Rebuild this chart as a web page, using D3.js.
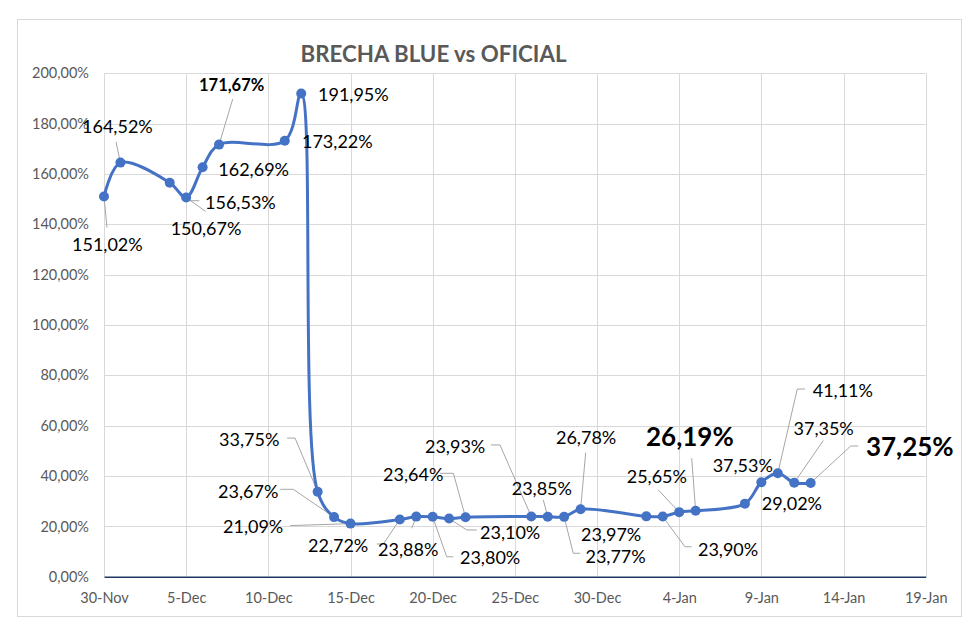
<!DOCTYPE html>
<html>
<head>
<meta charset="utf-8">
<script src="https://cdn.jsdelivr.net/npm/d3@7"></script>
<style>
  body { margin: 0; background: #fff; }
  text { font-family: Lato, "Open Sans", sans-serif; }
</style>
</head>
<body>
<svg id="chart" width="980" height="636"></svg>
<script>
// data
var dates = ['2023-11-30','2023-12-01','2023-12-04','2023-12-05','2023-12-06','2023-12-07',
  '2023-12-11','2023-12-12','2023-12-13','2023-12-14','2023-12-15','2023-12-18','2023-12-19',
  '2023-12-20','2023-12-21','2023-12-22','2023-12-26','2023-12-27','2023-12-28','2023-12-29',
  '2024-01-02','2024-01-03','2024-01-04','2024-01-05','2024-01-08','2024-01-09','2024-01-10',
  '2024-01-11','2024-01-12'];
var brecha = [151.02,164.52,156.53,150.67,162.69,171.67,173.22,191.95,33.75,23.67,21.09,22.72,23.88,
  23.80,23.10,23.64,23.93,23.85,23.77,26.78,23.97,23.90,25.65,26.19,29.02,37.53,41.11,37.35,37.25];
var xTicks = ['2023-11-30','2023-12-05','2023-12-10','2023-12-15','2023-12-20','2023-12-25',
  '2023-12-30','2024-01-04','2024-01-09','2024-01-14','2024-01-19'];
var yTicks = [0,20,40,60,80,100,120,140,160,180,200];

// label placement (offset of text start / leader points, relative to the marker)
var labelLayout = [
  {dx:-32, dy:54.4, lead:[[0,0],[3,31]]},
  {dx:-38.4, dy:-29.6, lead:[[-4.4,-20.6],[0,0]]},
  {dx:35.3, dy:26.3, lead:[[0,0],[20,18],[29.6,18]]},
  {dx:-15.5, dy:37.5, lead:[[0,0],[19.5,14]]},
  {dx:15.7, dy:8.8},
  {dx:-20, dy:-53.6, lead:[[13.7,-45.6],[0,0]], kind:'b'},
  {dx:17.2, dy:7.3},
  {dx:16.8, dy:7.9},
  {dx:-98.6, dy:-45.7, lead:[[-30.6,-53.7],[-22.6,-53.7],[0,0]]},
  {dx:-116, dy:-19, lead:[[-53.8,-27.8],[-40.8,-27.8],[0,0]]},
  {dx:-127.5, dy:9.4, lead:[[-60.5,2],[0,0]]},
  {dx:-91.8, dy:32.5, lead:[[-23.1,24.5],[-16.5,24.5],[0,0]]},
  {dx:-38.2, dy:39.4, lead:[[-4.5,11.7],[0,0]]},
  {dx:27.3, dy:47.2, lead:[[0,0],[14,40],[20.6,40]]},
  {dx:30.9, dy:20.4, lead:[[0,0],[17.6,11.4],[27.6,11.4]]},
  {dx:-82.5, dy:-36.2, lead:[[-25.5,-43.9],[-12.2,-43.9],[0,0]]},
  {dx:-106.3, dy:-63, lead:[[-40.3,-71.5],[-31.3,-71.5],[0,0]]},
  {dx:-36, dy:-21.7, lead:[[-4.4,-16.7],[0,0]]},
  {dx:21.3, dy:46.5, lead:[[0,0],[9.1,36.4],[15.8,36.4]]},
  {dx:-24.6, dy:-65.3, lead:[[5.1,-56.6],[0,0]]},
  {dx:-65.3, dy:24.8},
  {dx:35.2, dy:39.5, lead:[[0,0],[22.2,30.2],[28.9,30.2]]},
  {dx:-52.5, dy:-28.8, lead:[[-20.9,-22.1],[0,0]]},
  {dx:-49.6, dy:-64.8, lead:[[-3.9,-52.5],[0,0]], kind:'B'},
  {dx:16.8, dy:6.8},
  {dx:-48.7, dy:-10.2},
  {dx:34.9, dy:-76.2, lead:[[27.2,-84.2],[19.5,-84.2],[0,0]]},
  {dx:-0.7, dy:-47.7, lead:[[29.1,-42.2],[0,0]]},
  {dx:55.3, dy:-26.9, lead:[[47.6,-36.9],[40,-36.9],[0,0]], kind:'B'}
];

var parse = d3.utcParse('%Y-%m-%d');
var data = dates.map((d, i) => ({date: parse(d), value: brecha[i]}));

var svg = d3.select('#chart');

svg.append('rect')
  .attr('x', 17.5).attr('y', 19.5).attr('width', 944).attr('height', 597)
  .attr('fill', '#fff').attr('stroke', '#d9d9d9');

var x = d3.scaleUtc()
  .domain([parse(xTicks[0]), parse(xTicks[xTicks.length - 1])])
  .range([104, 925.7]);
var y = d3.scaleLinear().domain([0, 200]).range([576.7, 73.3]);

var pct = d3.formatLocale({decimal: ',', thousands: '.', grouping: [3], currency: ['', '']});
var fmtPct = v => pct.format('.2f')(v) + '%';

// grid
var grid = svg.append('g').attr('stroke', '#d9d9d9').attr('stroke-width', 1);
grid.selectAll('.h').data(yTicks.slice(1)).enter().append('line')
  .attr('x1', x.range()[0]).attr('x2', x.range()[1])
  .attr('y1', d => Math.round(y(d)) + 0.5).attr('y2', d => Math.round(y(d)) + 0.5);
grid.selectAll('.v').data(xTicks).enter().append('line')
  .attr('y1', y(200)).attr('y2', y(0))
  .attr('x1', d => Math.round(x(parse(d))) + 0.5).attr('x2', d => Math.round(x(parse(d))) + 0.5);

// axes
var yAxis = svg.append('g')
  .attr('transform', 'translate(' + x.range()[0] + ',0)')
  .call(d3.axisLeft(y).tickValues(yTicks).tickSize(0).tickPadding(15).tickFormat(fmtPct));
yAxis.select('.domain').remove();
yAxis.selectAll('text').attr('fill', '#595959').style('font-size', '14.5px').style('font-family', 'Lato');

var xAxis = svg.append('g')
  .attr('transform', 'translate(0,' + y(0) + ')')
  .call(d3.axisBottom(x).tickValues(xTicks.map(parse)).tickSize(0).tickPadding(16)
    .tickFormat(d3.utcFormat('%-d-%b')));
xAxis.select('.domain').attr('stroke', '#203864').attr('stroke-width', 1.6);
xAxis.selectAll('text').attr('fill', '#595959').style('font-size', '14.5px').style('font-family', 'Lato');

// title
svg.append('text')
  .attr('x', 433.5).attr('y', 61.7)
  .attr('text-anchor', 'middle')
  .attr('fill', '#595959')
  .style('font-size', '23px').style('font-weight', 'bold')
  .attr('textLength', 266).attr('lengthAdjust', 'spacingAndGlyphs')
  .text('BRECHA BLUE vs OFICIAL');

// leader lines
var leaderLine = d3.line();
svg.append('g').selectAll('path')
  .data(data.filter((d, i) => labelLayout[i].lead))
  .enter().append('path')
  .attr('d', d => {
    var L = labelLayout[data.indexOf(d)];
    var px = x(d.date), py = y(d.value);
    return leaderLine(L.lead.map(p => [px + p[0], py + p[1]]));
  })
  .attr('fill', 'none').attr('stroke', '#a6a6a6').attr('stroke-width', 1);

// series
var line = d3.line()
  .x(d => x(d.date)).y(d => y(d.value))
  .curve(d3.curveCatmullRom.alpha(0.5));
svg.append('path').datum(data)
  .attr('d', line)
  .attr('fill', 'none').attr('stroke', '#4472c4').attr('stroke-width', 3)
  .attr('stroke-linejoin', 'round');

svg.append('g').selectAll('circle').data(data).enter().append('circle')
  .attr('cx', d => x(d.date)).attr('cy', d => y(d.value)).attr('r', 5)
  .attr('fill', '#4472c4');

// data labels
svg.append('g').selectAll('text').data(data).enter().append('text')
  .attr('x', (d, i) => x(d.date) + labelLayout[i].dx)
  .attr('y', (d, i) => y(d.value) + labelLayout[i].dy)
  .attr('fill', '#000')
  .style('font-size', (d, i) => labelLayout[i].kind == 'B' ? '26px' : labelLayout[i].kind == 'b' ? '16.5px' : '18px')
  .style('font-weight', (d, i) => labelLayout[i].kind ? 'bold' : 'normal')
  .text(d => fmtPct(d.value));
</script>
</body>
</html>
